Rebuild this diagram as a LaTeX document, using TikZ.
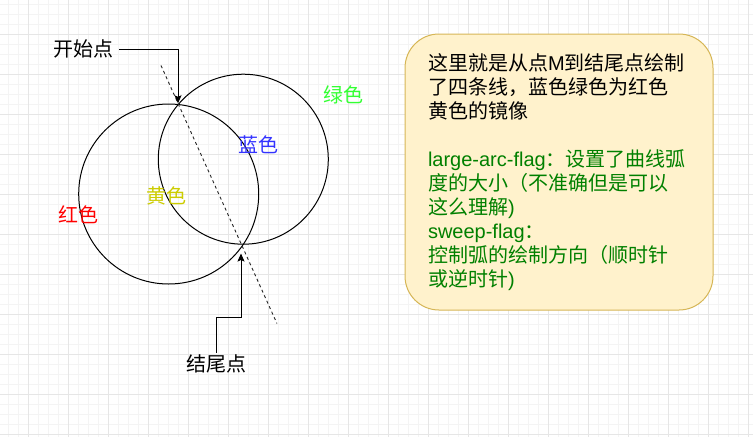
\documentclass[tikz,border=0pt]{standalone}
\usepackage{fontspec}
\setmainfont{Noto Sans CJK SC}
\newfontfamily\latin{Liberation Sans}
\usepackage{xcolor}
\usetikzlibrary{calc, positioning, arrows.meta}
\definecolor{gridminor}{HTML}{F4F4F4}
\definecolor{gridmajor}{HTML}{E6E6E6}
\definecolor{notefill}{HTML}{FFF2CC}
\definecolor{noteedge}{HTML}{D6B656}
\definecolor{notegreen}{HTML}{008000}
\definecolor{lblred}{HTML}{FF0000}
\definecolor{lblyellow}{HTML}{CCCC00}
\definecolor{lblblue}{HTML}{3333FF}
\definecolor{lblgreen}{HTML}{33FF33}
\newcommand\bggrid[4]{% x offset, y offset, spacing, colour of the lines
  \pgfmathtruncatemacro\gxb{#1+#3} % second vertical line
  \pgfmathtruncatemacro\gyb{#2+#3} % second horizontal line
  \foreach \gx in {#1,\gxb,...,753}{
    \draw[#4,line width=1pt] (\gx,0) -- (\gx,437);
  }
  \foreach \gy in {#2,\gyb,...,437}{
    \draw[#4,line width=1pt] (0,\gy) -- (753,\gy);
  }
}
\tikzset{
  lbl/.style={font=\fontsize{20}{24}\selectfont, inner xsep=6pt, inner ysep=2pt},
  arcline/.style={line width=1pt, black},
  pointer/.style={line width=1pt, -{Stealth[length=8pt,width=7pt,inset=1.5pt]}},
  mirror/.style={line width=0.9pt, black!85, dash pattern=on 3pt off 3pt},
  notebox/.style={draw=noteedge, fill=notefill, line width=1pt, rounded corners=34pt,
    minimum width=308pt, minimum height=276pt, inner xsep=23pt, text width=262pt,
    align=left, font=\fontsize{20}{24}\selectfont}
}

\begin{document}
\begin{tikzpicture}[x=1pt,y=-1pt]
  \useasboundingbox[fill=white] (0,0) rectangle (753,437);
  \bggrid{8}{4}{10}{gridminor}
  \bggrid{28}{34}{40}{gridmajor}

  \coordinate (R) at (168.7,194);   % centre of the red/yellow circle
  \coordinate (B) at (243.3,159.2); % centre of the blue/green circle
  \coordinate (M) at (178,103.3);   % start point
  \coordinate (E) at (241,243.5);   % end point
  \coordinate (Etip) at (241,253.5);

  \draw[arcline] (R) circle [radius=90pt];
  \draw[arcline] (B) circle [radius=85pt];
  \draw[mirror] ($(M)!-0.27!(E)$) -- ($(M)!1.57!(E)$);

  \node[lbl, text=lblred] (red) at (78.5,215) {红色};
  \node[lbl, text=lblyellow] (yellow) at (166.5,196) {黄色};
  \node[lbl, text=lblblue] (blue) at (258.5,145) {蓝色};
  \node[lbl, text=lblgreen] (green) at (343.3,95.3) {绿色};

  \node[lbl] (start) at (83,49) {开始点};
  \draw[pointer] (start.east) -| (M);
  \node[lbl] (finish) at (216.7,364) {结尾点};
  \draw[pointer] (finish.north) -- ++(0,-35) -| (Etip);

  \node[notebox] (note) at (559,172) {这里就是从点{\latin M}到结尾点绘制\\
    了四条线，蓝色绿色为红色\\
    黄色的镜像\\[24pt]
    {\color{notegreen}{\latin large-arc-flag}：设置了曲线弧\\
    度的大小（不准确但是可以\\
    这么理解{\latin )}\\
    {\latin sweep-flag}：\\
    控制弧的绘制方向（顺时针\\
    或逆时针{\latin )}}};
\end{tikzpicture}
\end{document}
